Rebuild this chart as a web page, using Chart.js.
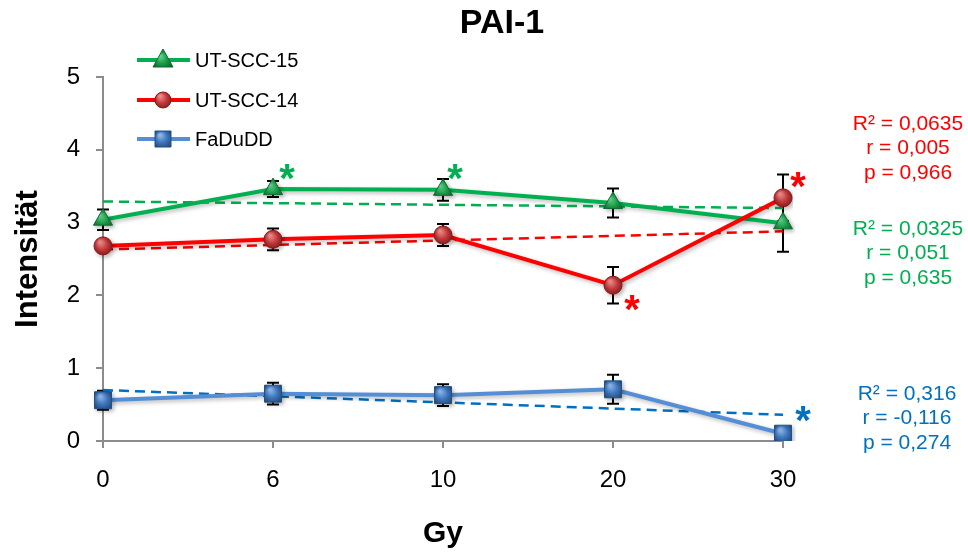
<!DOCTYPE html>
<html>
<head>
<meta charset="utf-8">
<script src="https://cdn.jsdelivr.net/npm/chart.js@4.4.1/dist/chart.umd.min.js"></script>
<style>
  html, body { margin: 0; padding: 0; background: #fff; }
  #wrap { width: 968px; height: 554px; position: relative; }
</style>
</head>
<body>
<div id="wrap"><canvas id="c" width="968" height="554"></canvas></div>
<script>
// ---- data ----
const categories = ['0', '6', '10', '20', '30'];
const seriesNames = ['UT-SCC-15', 'UT-SCC-14', 'FaDuDD'];
const ut15 = [3.04, 3.46, 3.45, 3.27, 2.99];
const ut15Err = [0.14, 0.11, 0.15, 0.20, 0.39];
const ut14 = [2.68, 2.77, 2.83, 2.14, 3.34];
const ut14Err = [0.05, 0.15, 0.15, 0.25, 0.32];
const fadu = [0.56, 0.65, 0.63, 0.71, 0.10];
const faduErr = [0.13, 0.15, 0.15, 0.20, 0.03];
// trend lines (start at first category, end at last)
const ut15Trend = [3.29, null, null, null, 3.20];
const ut14Trend = [2.63, null, null, null, 2.88];
const faduTrend = [0.70, null, null, null, 0.36];
const yTicks = [0, 1, 2, 3, 4, 5];
const statsUt14 = ['R² = 0,0635', 'r = 0,005', 'p = 0,966'];
const statsUt15 = ['R² = 0,0325', 'r = 0,051', 'p = 0,635'];
const statsFadu = ['R² = 0,316', 'r = -0,116', 'p = 0,274'];
// significance markers: [dataset index, category index]
const stars = [[0, 1], [0, 2], [1, 3], [1, 4], [2, 4]];

// ---- styles ----
const FONT = "'Liberation Sans', Arial, sans-serif";
const GREEN = '#00B050', RED = '#FF0000', BLUE = '#558ED5';
const BLUE_TXT = '#0070C0';

function grad(ctx, base, light, dark) {
  if (ctx.type !== 'data') return base;
  const ch = ctx.chart, xs = ch.scales.x, ys = ch.scales.y;
  if (!xs || !ys) return base;
  const x = xs.getPixelForValue(ctx.dataIndex), y = ys.getPixelForValue(ctx.raw);
  if (!isFinite(x) || !isFinite(y)) return base;
  const g = ch.ctx.createRadialGradient(x - 3, y - 4, 1, x, y, 11);
  g.addColorStop(0, light); g.addColorStop(0.5, base); g.addColorStop(1, dark);
  return g;
}

const mainStyle = {
  0: { line: GREEN, style: 'triangle', r: 11, fill: '#1C9C48', light: '#5FD38A', dark: '#0C6A2E', border: '#0E6B30' },
  1: { line: RED, style: 'circle', r: 9, fill: '#C0393B', light: '#F08A8A', dark: '#7A1416', border: '#8B1A1A' },
  2: { line: BLUE, style: 'rect', r: 12, fill: '#3F77BD', light: '#8DB6EA', dark: '#23497E', border: '#24507F' }
};
const errs = [ut15Err, ut14Err, faduErr];
const statColors = [RED, GREEN, BLUE_TXT];
const starColors = [GREEN, RED, BLUE_TXT];

function mainDs(i, data, ord) {
  const s = mainStyle[i];
  return {
    label: seriesNames[i], data, order: ord,
    borderColor: s.line, borderWidth: 4, tension: 0,
    pointStyle: s.style, pointRadius: s.r, pointHoverRadius: s.r,
    pointBackgroundColor: (c) => grad(c, s.fill, s.light, s.dark),
    pointBorderColor: s.border, pointBorderWidth: 1,
    _main: true
  };
}
function trendDs(data, color) {
  return {
    label: 'trend', data, order: 10, spanGaps: true,
    borderColor: color, borderWidth: 2.5, borderDash: [10, 6],
    pointRadius: 0, pointHoverRadius: 0, tension: 0
  };
}

const overlay = {
  id: 'overlay',
  beforeDatasetsDraw(chart) {
    const ctx = chart.ctx, xs = chart.scales.x, ys = chart.scales.y;
    ctx.save();
    ctx.strokeStyle = '#000'; ctx.lineWidth = 2;
    [ut15, ut14, fadu].forEach((vals, si) => {
      vals.forEach((v, i) => {
        const e = errs[si][i];
        const x = xs.getPixelForValue(i);
        const yt = ys.getPixelForValue(v + e), yb = ys.getPixelForValue(v - e);
        ctx.beginPath();
        ctx.moveTo(x, yt); ctx.lineTo(x, yb);
        ctx.moveTo(x - 6, yt); ctx.lineTo(x + 6, yt);
        ctx.moveTo(x - 6, yb); ctx.lineTo(x + 6, yb);
        ctx.stroke();
      });
    });
    ctx.restore();
  },
  beforeDatasetDraw(chart, args) {
    const ds = chart.data.datasets[args.index];
    chart.ctx.save();
    if (ds._main) {
      chart.ctx.shadowColor = 'rgba(0,0,0,0.28)';
      chart.ctx.shadowBlur = 4; chart.ctx.shadowOffsetX = 2; chart.ctx.shadowOffsetY = 2;
    }
  },
  afterDatasetDraw(chart) { chart.ctx.restore(); },
  afterDraw(chart) {
    const ctx = chart.ctx, xs = chart.scales.x, ys = chart.scales.y;
    ctx.save();
    // title
    ctx.fillStyle = '#000'; ctx.textAlign = 'center'; ctx.textBaseline = 'middle';
    ctx.font = 'bold 34px ' + FONT;
    ctx.fillText('PAI-1', 502, 24);
    // axis titles
    ctx.font = 'bold 30px ' + FONT;
    ctx.fillText('Gy', 443, 534);
    ctx.save();
    ctx.translate(28, 259); ctx.rotate(-Math.PI / 2);
    ctx.font = 'bold 31px ' + FONT;
    ctx.fillText('Intensität', 0, 0);
    ctx.restore();
    // legend
    const legY = [60, 100, 139];
    [0, 1, 2].forEach(i => {
      const s = mainStyle[i], y = legY[i];
      ctx.strokeStyle = s.line; ctx.lineWidth = 4;
      ctx.beginPath(); ctx.moveTo(137, y); ctx.lineTo(190, y); ctx.stroke();
      const g = ctx.createRadialGradient(160, y - 4, 1, 163, y, 10);
      g.addColorStop(0, s.light); g.addColorStop(0.5, s.fill); g.addColorStop(1, s.dark);
      ctx.fillStyle = g; ctx.strokeStyle = s.border; ctx.lineWidth = 1;
      ctx.beginPath();
      if (s.style === 'triangle') {
        ctx.moveTo(163, y - 11); ctx.lineTo(173, y + 7); ctx.lineTo(153, y + 7); ctx.closePath();
      } else if (s.style === 'circle') {
        ctx.arc(163, y, 8, 0, Math.PI * 2);
      } else {
        ctx.rect(155, y - 8, 16, 16);
      }
      ctx.fill(); ctx.stroke();
      ctx.fillStyle = '#000'; ctx.textAlign = 'left'; ctx.textBaseline = 'middle';
      ctx.font = '20px ' + FONT;
      ctx.fillText(seriesNames[i], 195, y + 1);
    });
    // statistics
    ctx.textAlign = 'center'; ctx.textBaseline = 'middle'; ctx.font = '21px ' + FONT;
    const blocks = [[statsUt14, 908, 124], [statsUt15, 908, 229], [statsFadu, 907, 394]];
    blocks.forEach((b, bi) => {
      ctx.fillStyle = statColors[bi];
      b[0].forEach((t, k) => ctx.fillText(t, b[1], b[2] + k * 24.5));
    });
    // asterisks
    const off = { '0,1': [14, -20], '0,2': [12, -21], '1,3': [19, 15], '1,4': [15, -21], '2,4': [20, -23] };
    const vals = [ut15, ut14, fadu];
    ctx.font = 'bold 40px ' + FONT; ctx.textBaseline = 'alphabetic';
    stars.forEach(([si, ci]) => {
      const o = off[si + ',' + ci];
      const x = xs.getPixelForValue(ci) + o[0];
      const y = ys.getPixelForValue(vals[si][ci]) + o[1];
      ctx.fillStyle = starColors[si];
      ctx.fillText('*', x, y + 23);
    });
    ctx.restore();
  }
};

new Chart(document.getElementById('c'), {
  type: 'line',
  data: {
    labels: categories,
    datasets: [
      mainDs(0, ut15, 1),
      mainDs(1, ut14, 0),
      mainDs(2, fadu, 2),
      trendDs(ut15Trend, GREEN),
      trendDs(ut14Trend, RED),
      trendDs(faduTrend, BLUE_TXT)
    ]
  },
  options: {
    responsive: false, animation: false, devicePixelRatio: 1,
    layout: { padding: { left: 0, right: 185, top: 77, bottom: 0 } },
    plugins: { legend: { display: false }, title: { display: false }, tooltip: { enabled: false } },
    scales: {
      x: {
        type: 'category', offset: false,
        grid: { display: true, drawOnChartArea: false, drawTicks: true, tickLength: 7, color: '#8c8c8c', lineWidth: 2 },
        border: { color: '#8c8c8c', width: 2 },
        ticks: { color: '#000', font: { family: FONT, size: 24 }, padding: 18, maxRotation: 0 },
        afterFit(s) { s.height = 113; }
      },
      y: {
        min: 0, max: 5,
        afterBuildTicks(s) { s.ticks = yTicks.map(v => ({ value: v })); },
        grid: { display: true, drawOnChartArea: false, drawTicks: true, tickLength: 7, color: '#8c8c8c', lineWidth: 2 },
        border: { color: '#8c8c8c', width: 2 },
        ticks: { color: '#000', font: { family: FONT, size: 24 }, padding: 16 },
        afterFit(s) { s.width = 103; }
      }
    }
  },
  plugins: [overlay]
});
</script>
</body>
</html>
